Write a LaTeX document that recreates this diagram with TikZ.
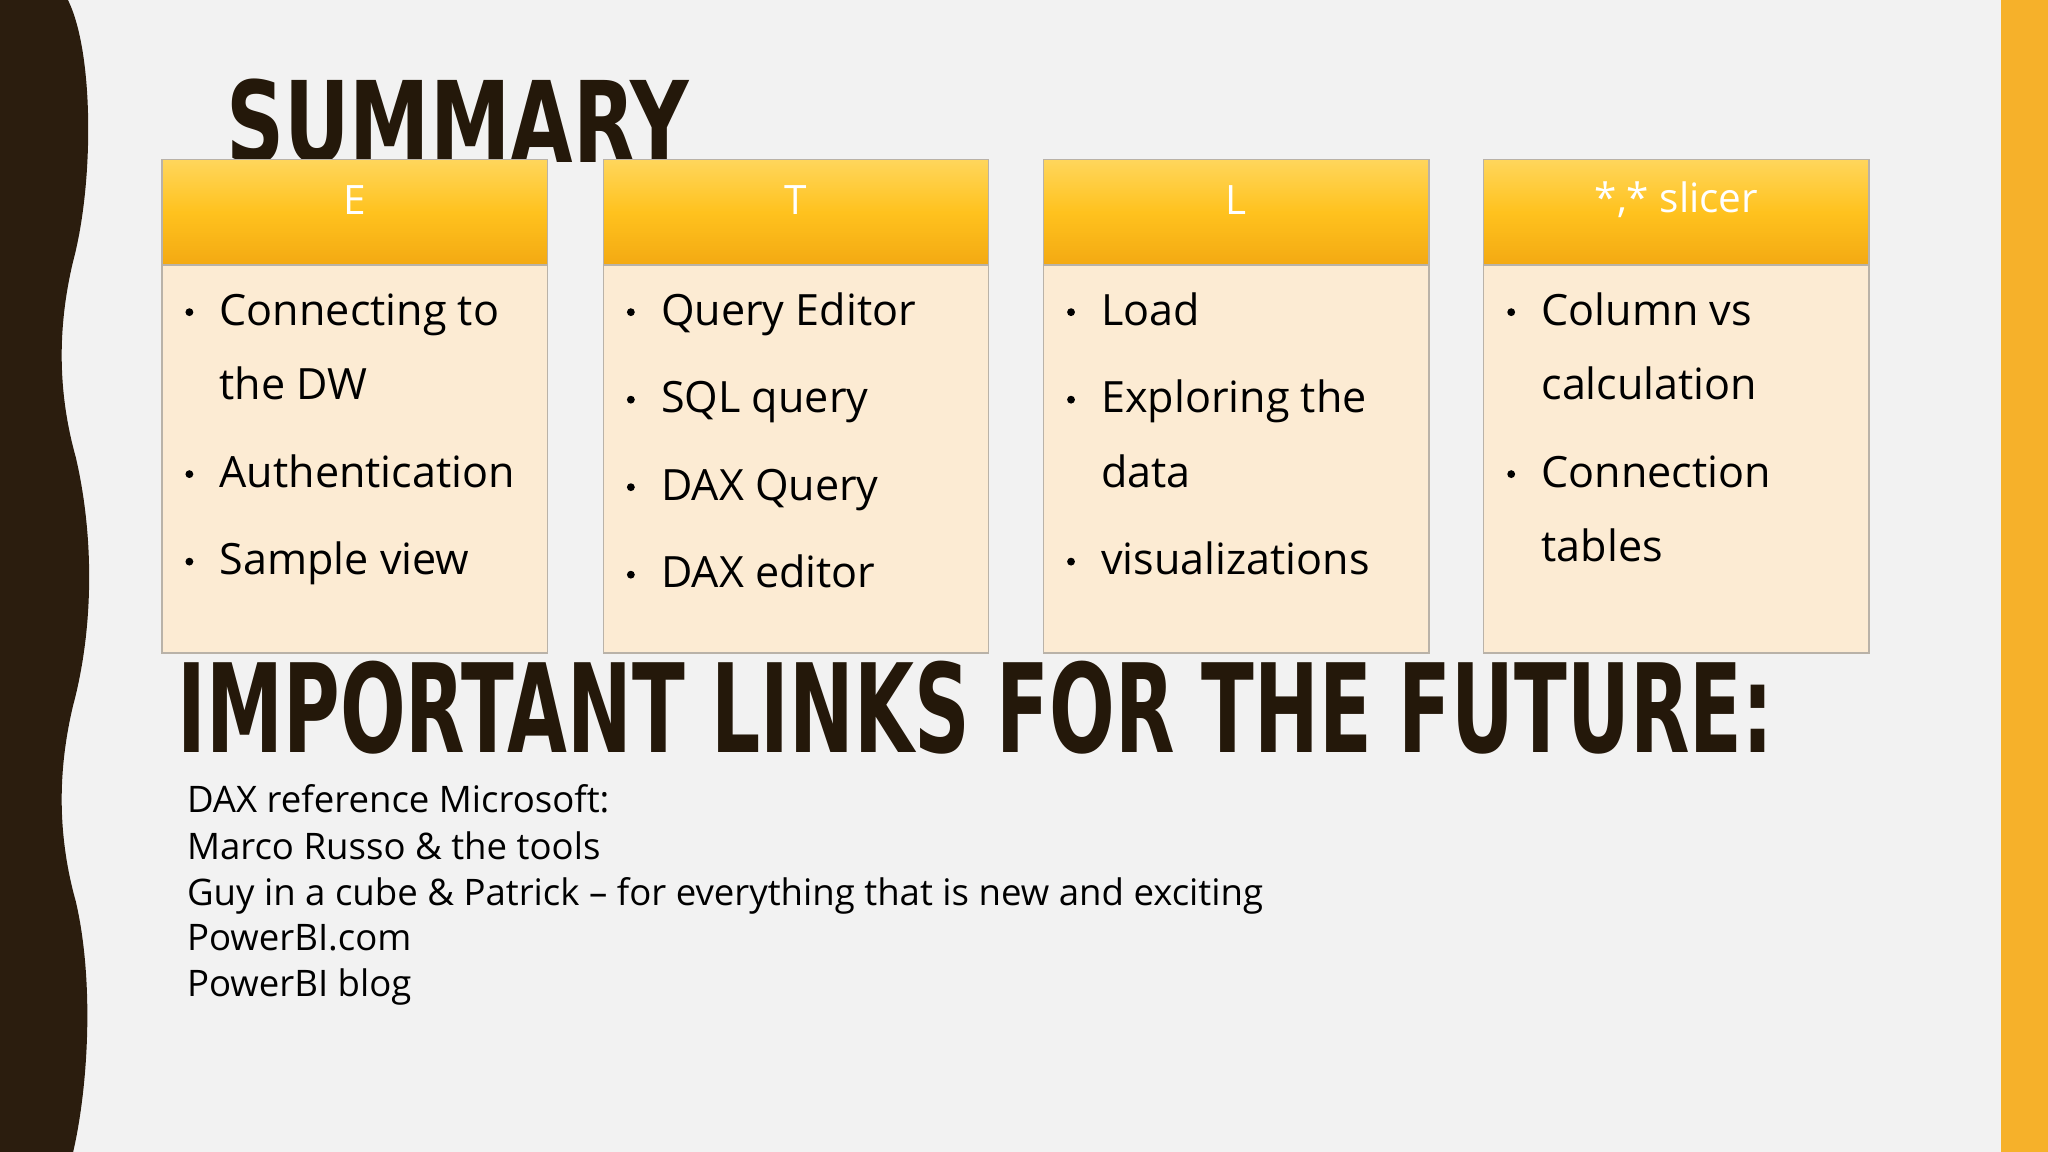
\documentclass[tikz,border=0pt]{standalone}
\usepackage{fontspec}
\setmainfont{Open Sans}
\newfontfamily\headfont{DejaVu Sans Condensed}
\definecolor{bg}{HTML}{F2F2F2}
\definecolor{brownband}{HTML}{2B1D0E}
\definecolor{orangeband}{HTML}{F6B12A}
\definecolor{hdtop}{HTML}{FFD65C}
\definecolor{hdmid}{HTML}{FFC21E}
\definecolor{hdbot}{HTML}{F3A912}
\definecolor{bodyfill}{HTML}{FCEBD3}
\definecolor{boxline}{HTML}{B9B2A8}
\definecolor{titlec}{HTML}{24180A}
\tikzset{
  hdr/.style={draw=boxline, line width=1pt, top color=hdtop, bottom color=hdbot, middle color=hdmid},
  bodybox/.style={draw=boxline, line width=1pt, fill=bodyfill},
  hdtext/.style={text=white, font=\fontsize{31}{36}\selectfont, anchor=center},
  item/.style={anchor=base west, font=\fontsize{33}{36}\selectfont, inner sep=0pt},
  bul/.style={circle, fill=black, inner sep=0pt, minimum size=6pt},
  link/.style={anchor=base west, font=\fontsize{28}{30}\selectfont, inner sep=0pt},
}
\begin{document}
\begin{tikzpicture}[x=1pt,y=-1pt]
\fill[bg] (0,0) rectangle (1568,882);
\useasboundingbox (0,0) rectangle (1568,882);
\fill[orangeband] (1532,0) rectangle (1568,882);
\fill[brownband] (0,0) -- (52,0)
  .. controls (72,40) and (72,140) .. (56,200)
  .. controls (44,250) and (44,300) .. (58,350)
  .. controls (72,410) and (72,480) .. (56,540)
  .. controls (44,590) and (44,640) .. (58,690)
  .. controls (72,750) and (68,830) .. (56,882)
  -- (0,882) -- cycle;
\node[anchor=west, inner sep=0pt, text=titlec] (sum) at (173,93)
  {\resizebox{354pt}{64pt}{\headfont\bfseries SUMMARY}};
% columns
\foreach \i/\x/\t in {1/124/E, 2/462/T, 3/799/L, 4/1136/{*,* slicer}}{
  \path[bodybox] (\x,203) rectangle ++(295,297);
  \path[hdr] (\x,122) rectangle ++(295,81);
  \node[hdtext] (h\i) at (\x+147.5,153) {\t};
}
% column 1
\foreach \yy in {239,363,430} \node[bul] at (145,\yy) {};
\node[item] (a1) at (168,249) {Connecting to};
\node[item] (a2) at (168,306) {the DW};
\node[item] (a3) at (168,373) {Authentication};
\node[item] (a4) at (168,440) {Sample view};
% column 2
\foreach \yy in {239,306,373,440} \node[bul] at (483,\yy) {};
\node[item] (b1) at (506,249) {Query Editor};
\node[item] (b2) at (506,316) {SQL query};
\node[item] (b3) at (506,383) {DAX Query};
\node[item] (b4) at (506,450) {DAX editor};
% column 3
\foreach \yy in {239,306,430} \node[bul] at (820,\yy) {};
\node[item] (c1) at (843,249) {Load};
\node[item] (c2) at (843,316) {Exploring the};
\node[item] (c3) at (843,373) {data};
\node[item] (c4) at (843,440) {visualizations};
% column 4
\foreach \yy in {239,363} \node[bul] at (1157,\yy) {};
\node[item] (d1) at (1180,249) {Column vs};
\node[item] (d2) at (1180,306) {calculation};
\node[item] (d3) at (1180,373) {Connection};
\node[item] (d4) at (1180,430) {tables};
% important links
\node[anchor=west, inner sep=0pt, text=titlec] (imp) at (136,542)
  {\resizebox{1221pt}{70pt}{\headfont\bfseries IMPORTANT LINKS FOR THE FUTURE:}};
\node[link] (l1) at (143,622) {DAX reference Microsoft:};
\node[link] (l2) at (143,658) {Marco Russo \& the tools};
\node[link] (l3) at (143,693) {Guy in a cube \& Patrick – for everything that is new and exciting};
\node[link] (l4) at (143,728) {PowerBI.com};
\node[link] (l5) at (143,763) {PowerBI blog};
\end{tikzpicture}
\end{document}
